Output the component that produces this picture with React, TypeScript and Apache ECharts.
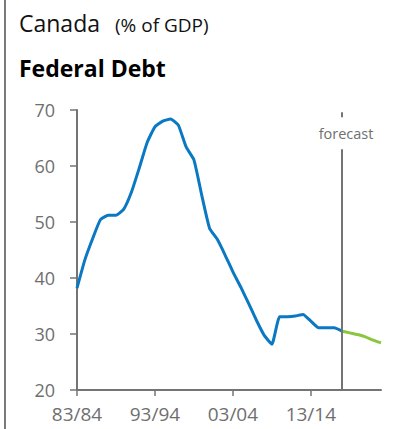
import React, { useEffect, useRef } from "react";
import * as echarts from "echarts";

const categories = [
  "83/84", "84/85", "85/86", "86/87", "87/88", "88/89", "89/90", "90/91", "91/92", "92/93",
  "93/94", "94/95", "95/96", "96/97", "97/98", "98/99", "99/00", "00/01", "01/02", "02/03",
  "03/04", "04/05", "05/06", "06/07", "07/08", "08/09", "09/10", "10/11", "11/12", "12/13",
  "13/14", "14/15", "15/16", "16/17", "17/18", "18/19", "19/20", "20/21", "21/22", "22/23",
];

const actualDebt = [
  38.2, 43.2, 47.0, 50.4, 51.2, 51.2, 52.3, 55.4, 59.7, 64.2,
  67.0, 68.0, 68.4, 67.3, 63.4, 61.1, 54.8, 48.9, 46.9, 44.1,
  41.1, 38.4, 35.5, 32.5, 29.8, 28.2, 33.1, 33.1, 33.2, 33.5,
  32.3, 31.1, 31.1, 31.1, 30.5,
];

const forecastDebt = [30.5, 30.2, 29.9, 29.5, 28.9, 28.4];

const yTicks = { min: 20, max: 70, interval: 10 };
const forecastStart = "17/18";

export default function App() {
  const ref = useRef<HTMLDivElement>(null);

  useEffect(() => {
    document.body.style.margin = "0";
    if (!ref.current) return;
    const chart = echarts.init(ref.current, null, { renderer: "svg" });

    const startIdx = categories.indexOf(forecastStart);
    const blue = categories.map((_, i) => (i < actualDebt.length ? actualDebt[i] : null));
    const green = categories.map((_, i) =>
      i >= startIdx && i - startIdx < forecastDebt.length ? forecastDebt[i - startIdx] : null
    );

    const axisGray = "#747474";
    const labelGray = "#6f6f6f";

    chart.setOption({
      animation: false,
      grid: { left: 77, right: 21, top: 110, bottom: 39, containLabel: false },
      xAxis: {
        type: "category",
        data: categories,
        boundaryGap: false,
        axisLine: { show: true, lineStyle: { color: axisGray, width: 2 } },
        axisTick: { show: true, interval: 9, length: 6, lineStyle: { color: axisGray, width: 1.5 } },
        axisLabel: {
          interval: 9,
          margin: 14,
          color: labelGray,
          fontFamily: "Open Sans",
          fontSize: 19,
        },
        splitLine: { show: false },
      },
      yAxis: {
        type: "value",
        min: yTicks.min,
        max: yTicks.max,
        interval: yTicks.interval,
        axisLine: { show: true, lineStyle: { color: axisGray, width: 2 } },
        axisTick: { show: true, length: 7, lineStyle: { color: axisGray, width: 1.5 } },
        axisLabel: {
          margin: 22,
          color: labelGray,
          fontFamily: "Open Sans",
          fontSize: 18,
        },
        splitLine: { show: false },
      },
      series: [
        {
          type: "line",
          data: blue,
          showSymbol: false,
          symbol: "none",
          smooth: 0.15,
          lineStyle: { color: "#0a78c2", width: 3 },
          z: 3,
          markLine: {
            silent: true,
            symbol: "none",
            label: { show: false },
            lineStyle: { color: axisGray, width: 2, type: "solid" },
            data: [
              [{ coord: [startIdx, 69.6] }, { coord: [startIdx, 68.7] }],
              [{ coord: [startIdx, 63.0] }, { coord: [startIdx, 20] }],
            ],
          },
        },
        {
          type: "line",
          data: green,
          showSymbol: false,
          symbol: "none",
          smooth: 0.15,
          lineStyle: { color: "#8cc63f", width: 3 },
          z: 4,
        },
      ],
    });

    const p = chart.convertToPixel({ xAxisIndex: 0, yAxisIndex: 0 }, [startIdx, 65.8]) as number[];

    chart.setOption({
      graphic: [
        {
          type: "line",
          shape: { x1: 5, y1: 0, x2: 5, y2: 429 },
          style: { stroke: "#7a7a7a", lineWidth: 2 },
        },
        {
          type: "text",
          x: 19,
          y: 11,
          style: {
            text: "Canada",
            fontFamily: "Open Sans",
            fontSize: 23,
            fill: "#111",
            align: "left",
            verticalAlign: "top",
          },
        },
        {
          type: "text",
          x: 115,
          y: 15,
          style: {
            text: "(% of GDP)",
            fontFamily: "Open Sans",
            fontSize: 19,
            fill: "#111",
            align: "left",
            verticalAlign: "top",
          },
        },
        {
          type: "text",
          x: 19,
          y: 56,
          style: {
            text: "Federal Debt",
            fontFamily: "Open Sans",
            fontSize: 23,
            fontWeight: "bold",
            fill: "#000",
            align: "left",
            verticalAlign: "top",
          },
        },
        {
          type: "text",
          x: p[0] + 4,
          y: p[1],
          style: {
            text: "forecast",
            fontFamily: "Open Sans",
            fontSize: 14.5,
            fill: labelGray,
            align: "center",
            verticalAlign: "middle",
          },
        },
      ],
    });

    return () => chart.dispose();
  }, []);

  return <div ref={ref} style={{ width: 402, height: 429 }} />;
}
